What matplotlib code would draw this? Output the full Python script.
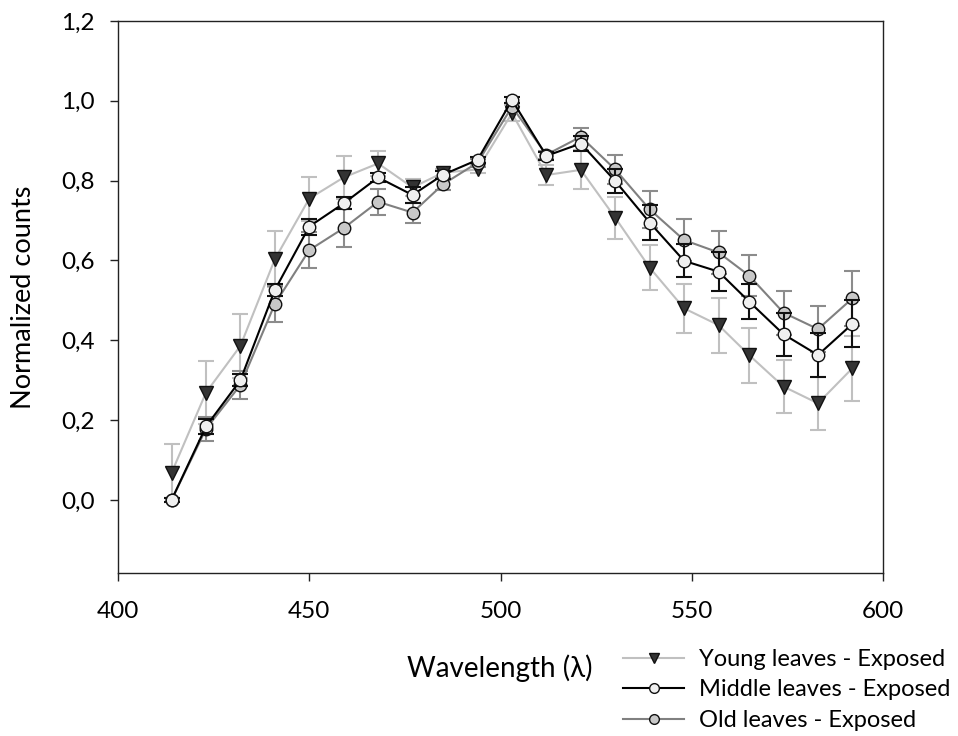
import matplotlib
matplotlib.use("Agg")
import matplotlib.pyplot as plt
from matplotlib.ticker import FuncFormatter

plt.rcParams['font.family'] = ['Lato', 'DejaVu Sans']

wavelength = [414, 423, 432, 441, 450, 459, 468, 477, 485, 494, 503,
              512, 521, 530, 539, 548, 557, 565, 574, 583, 592]

young = [0.068, 0.269, 0.386, 0.603, 0.755, 0.808, 0.843, 0.783, 0.820, 0.828, 0.969,
         0.814, 0.827, 0.707, 0.582, 0.480, 0.438, 0.363, 0.284, 0.242, 0.330]
young_err = [0.073, 0.080, 0.080, 0.070, 0.055, 0.054, 0.032, 0.022, 0.010, 0.010, 0.020,
             0.025, 0.049, 0.052, 0.056, 0.061, 0.069, 0.069, 0.067, 0.067, 0.081]

middle = [0.0, 0.184, 0.300, 0.526, 0.685, 0.743, 0.808, 0.764, 0.815, 0.852, 1.002,
          0.862, 0.893, 0.799, 0.695, 0.599, 0.572, 0.497, 0.415, 0.363, 0.441]
middle_err = [0.005, 0.020, 0.015, 0.015, 0.020, 0.015, 0.012, 0.020, 0.010, 0.008, 0.008,
              0.010, 0.020, 0.031, 0.045, 0.041, 0.048, 0.044, 0.054, 0.054, 0.059]

old = [0.0, 0.178, 0.288, 0.491, 0.626, 0.681, 0.747, 0.720, 0.791, 0.845, 0.985,
       0.865, 0.910, 0.828, 0.728, 0.651, 0.620, 0.562, 0.469, 0.428, 0.505]
old_err = [0.005, 0.030, 0.035, 0.045, 0.045, 0.047, 0.032, 0.025, 0.015, 0.010, 0.010,
           0.010, 0.021, 0.036, 0.047, 0.053, 0.054, 0.052, 0.055, 0.058, 0.069]

labels = ["Young leaves - Exposed", "Middle leaves - Exposed", "Old leaves - Exposed"]

fig = plt.figure(figsize=(9.58, 7.36), dpi=100)
ax = fig.add_axes([0.1232, 0.2215, 0.7985, 0.75])

cap = 5.5
# Young
ax.errorbar(wavelength, young, yerr=young_err, fmt='none', ecolor='#c0c0c0',
            elinewidth=1.5, capsize=cap, capthick=1.5, zorder=2)
hy, = ax.plot(wavelength, young, color='#c0c0c0', lw=1.5, marker='v', markersize=10,
              markerfacecolor='#333333', markeredgecolor='#111111', markeredgewidth=1.0, zorder=3)
# Old
ax.errorbar(wavelength, old, yerr=old_err, fmt='none', ecolor='#8c8c8c',
            elinewidth=1.5, capsize=cap, capthick=1.5, zorder=4)
ho, = ax.plot(wavelength, old, color='#808080', lw=1.5, marker='o', markersize=9,
              markerfacecolor='#c8c8c8', markeredgecolor='#111111', markeredgewidth=1.0, zorder=5)
# Middle
ax.errorbar(wavelength, middle, yerr=middle_err, fmt='none', ecolor='#111111',
            elinewidth=1.5, capsize=cap, capthick=1.5, zorder=6)
hm, = ax.plot(wavelength, middle, color='#000000', lw=1.5, marker='o', markersize=9,
              markerfacecolor='#f0f0f0', markeredgecolor='#111111', markeredgewidth=1.0, zorder=7)

ax.set_xlim(400, 600)
ax.set_ylim(-0.183, 1.2)
ax.set_xticks([400, 450, 500, 550, 600])
ax.set_yticks([0.0, 0.2, 0.4, 0.6, 0.8, 1.0, 1.2])
ax.yaxis.set_major_formatter(FuncFormatter(lambda v, p: f"{v:.1f}".replace('.', ',')))
ax.tick_params(axis='both', direction='out', length=6, width=1, labelsize=17.5,
               colors='#222222', labelcolor='#000000')
ax.tick_params(axis='x', pad=14)
ax.tick_params(axis='y', pad=11)
for s in ax.spines.values():
    s.set_linewidth(1.0)
    s.set_color('#222222')

ax.set_ylabel("Normalized counts", fontsize=19.5)
ax.yaxis.set_label_coords(-0.1075, 0.5)
fig.text(0.522, 1 - 668 / 736, "Wavelength (λ)", fontsize=20, ha='center', va='center')

leg = fig.legend([hy, hm, ho], labels, loc='upper left', bbox_to_anchor=(623 / 958, 1 - 649 / 736),
                 frameon=False, fontsize=17, handlelength=2.6, handletextpad=0.6,
                 labelspacing=0.40, borderaxespad=0, borderpad=0)
for h in leg.legend_handles:
    h.set_markersize(7)

fig.savefig("out.png", dpi=100)
